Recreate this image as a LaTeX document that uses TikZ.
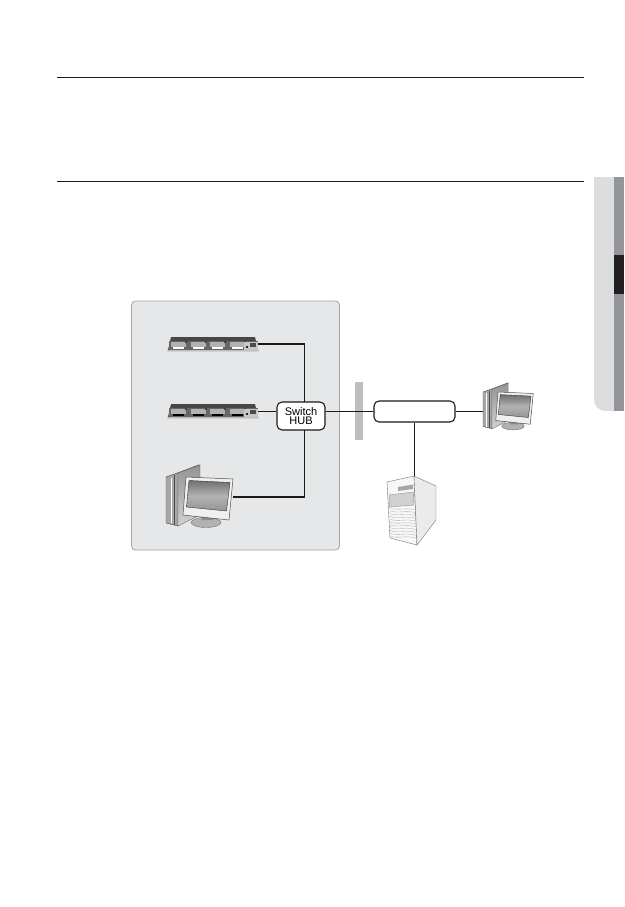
\documentclass[tikz,border=0pt]{standalone}
\usepackage{fontspec}
\setmainfont{Liberation Sans}
\usetikzlibrary{calc}
\definecolor{panelfill}{HTML}{E6E7E8}
\definecolor{panelline}{HTML}{A3A4A6}
\definecolor{wire}{HTML}{1A1A1A}
\definecolor{barfill}{HTML}{BDBEC0}
\definecolor{tablight}{HTML}{DCDDDE}
\definecolor{tabdark}{HTML}{939598}
\definecolor{tabblack}{HTML}{231F20}
\tikzset{
  rule/.style={draw=wire,line width=0.8pt},
  panel/.style={draw=panelline,fill=panelfill,line width=0.8pt,rounded corners=4pt},
  thinwire/.style={draw=wire,line width=1pt},
  thickwire/.style={draw=wire,line width=1.9pt},
  hubbox/.style={draw=wire,fill=white,line width=1.1pt,rounded corners=5pt,inner sep=0pt,align=center,font=\fontsize{11}{9.8}\selectfont,text=black},
  anchorbox/.style={inner sep=0pt,outer sep=0pt}
}
\newcommand{\recorderart}[3]{%
  \begin{scope}[shift={(#1,#2)}]
    \fill[black!18] (-1,12) rectangle (91,15);
    \fill[black!72] (0,13.5) -- (3,0.5) -- (87,0.5) -- (90,13.5) -- cycle;
    \fill[black!60] (1,4.5) rectangle (89.5,13.5);
    \foreach \s in {3,23,42,62}{
      \fill[black!30] (\s,5.5) rectangle (\s+15,10.5);
      \fill[#3] (\s+1.5,10.5) rectangle (\s+12.5,12.6);
      \fill[black!75] (\s+15,5.5) circle (1.4);
    }
    \fill[black!22] (76,5) rectangle (89.5,13);
    \fill[black!85] (77.5,9) rectangle (79.5,11.5);
    \fill[black!70] (81.5,6.5) rectangle (88,10.5);
  \end{scope}}
\newcommand{\computerart}[3]{%
  \begin{scope}[shift={(#1,#2)},scale=#3]
    \fill[black!35,draw=black!65,line width=.4pt] (0,12) -- (12,8) -- (12,61) -- (0,58) -- cycle;
    \shade[top color=black!42,bottom color=black!18,draw=black!60,line width=.4pt] (12,8) -- (34,0) -- (34,50) -- (12,61) -- cycle;
    \fill[black!60] (0,12) -- (33,-0.5) -- (34,0) -- (12,8) -- cycle;
    \draw[black!70,line width=.5pt] (8,10) -- (8,60);
    \draw[white,line width=.7pt] (5,13) -- (5,58);
    \fill[black!30,draw=black!55,line width=.4pt] (40,57.5) ellipse (15 and 5);
    \fill[black!45] (34,50) -- (50,51) -- (47,55) -- (36,55) -- cycle;
    \fill[black!6,draw=black!70,line width=.5pt] (20,12) -- (67,14) -- (63,55) -- (17,50) -- cycle;
    \begin{scope}
      \clip (23,15.5) -- (64,17.5) -- (60.5,46) -- (20.5,42) -- cycle;
      \shade[top color=black!62,bottom color=black!45,middle color=black!30] (20,12) rectangle (67,50);
    \end{scope}
    \draw[black!80,line width=.4pt] (23,15.5) -- (64,17.5) -- (60.5,46) -- (20.5,42) -- cycle;
  \end{scope}}
\begin{document}
\begin{tikzpicture}[x=1pt,y=-1pt]
\useasboundingbox (0,0) rectangle (624,907);
\coordinate (r1a) at (57,77.5); \coordinate (r1b) at (583.5,77.5);
\coordinate (r2a) at (57,181.5); \coordinate (r2b) at (583.5,181.5);
\draw[rule] (r1a) -- (r1b);
\draw[rule] (r2a) -- (r2b);
\fill[tablight] (594,177) -- (614,177) -- (614,411) -- (606,411) .. controls (598,411) and (594,406) .. (594,398) -- cycle;
\fill[tabdark] (614,177) rectangle (624,411);
\fill[tabblack] (614,255) rectangle (624,294);
\draw[panel] (131.5,301) rectangle (339.5,550);
\node[anchorbox,minimum width=90pt,minimum height=14pt] (rec1) at (213,344) {};
\node[anchorbox,minimum width=90pt,minimum height=14pt] (rec2) at (213,411.5) {};
\node[anchorbox,minimum width=1pt,minimum height=1pt] (pcA) at (232,497) {};
\node[anchorbox,minimum width=1pt,minimum height=1pt] (pcB) at (484,411.5) {};
\coordinate (srvtop) at (414.5,477);
\node[anchorbox,fill=barfill,minimum width=8pt,minimum height=58pt] (bar) at (359,411) {};
\node[hubbox,minimum width=48pt,minimum height=28pt] (hub) at (301,416) {Switch\\HUB};
\coordinate (hubup) at (304.5,402);
\coordinate (hubdn) at (304.5,430);
\node[hubbox,minimum width=81pt,minimum height=21pt] (box) at (414.5,411.5) {};
\draw[thickwire] (rec1.east) -| (hubup);
\draw[thickwire] (hubdn) |- (pcA);
\draw[thinwire] (rec2.east) -- (rec2.east -| hub.west);
\draw[thinwire] (box.west -| hub.east) -- (box.west);
\draw[thinwire] (box.east) -- (pcB);
\draw[thinwire] (box.south) -- (srvtop);
\recorderart{168}{336.5}{white}
\recorderart{168}{403.5}{black}
\computerart{166}{465}{1}
\computerart{483}{383}{.75}
\fill[black!3,draw=black!55,line width=.4pt] (387,482) -- (414,476) -- (417,545) -- (390,538) -- cycle;
\fill[black!8,draw=black!55,line width=.4pt] (414,476) -- (436,486) -- (436,520) -- (417,545) -- cycle;
\fill[black!35] (398,487) -- (413,484.5) -- (413,489) -- (398,491) -- cycle;
\fill[black!18,draw=black!50,line width=.3pt] (389,495) -- (413.5,492) -- (414,505) -- (389.5,507) -- cycle;
\foreach \i in {0,...,10}{
  \draw[black!30,line width=.35pt] (390,508+2.8*\i) .. controls (398,511+2.8*\i) and (406,507+2.8*\i) .. (416,510+2.8*\i);
}
\end{tikzpicture}
\end{document}
